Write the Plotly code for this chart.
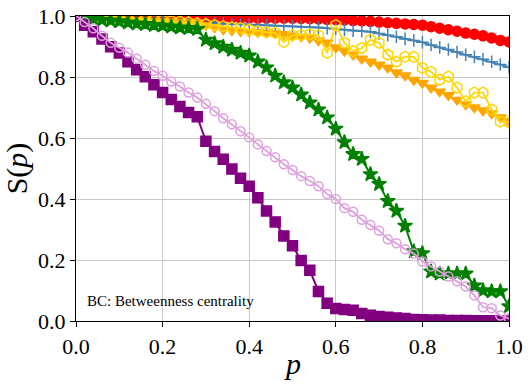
import plotly.graph_objects as go

# fraction of removed nodes
p = [round(i * 0.02, 2) for i in range(51)]

s_red = [1.0, 1.0, 1.0, 0.999, 0.999, 0.999, 0.998, 0.998, 0.998, 0.997,
         0.997, 0.997, 0.996, 0.996, 0.996, 0.995, 0.995, 0.995, 0.994, 0.994,
         0.994, 0.993, 0.993, 0.993, 0.993, 0.993, 0.992, 0.991, 0.99, 0.989,
         0.988, 0.987, 0.985, 0.984, 0.982, 0.98, 0.978, 0.976, 0.974, 0.972,
         0.97, 0.965, 0.96, 0.955, 0.95, 0.944, 0.94, 0.935, 0.928, 0.92,
         0.915]

s_blue = [1.0, 0.998, 0.996, 0.995, 0.993, 0.992, 0.99, 0.988, 0.987, 0.985,
          0.984, 0.982, 0.98, 0.979, 0.978, 0.977, 0.976, 0.975, 0.974, 0.973,
          0.972, 0.971, 0.97, 0.969, 0.968, 0.966, 0.965, 0.963, 0.962, 0.96,
          0.958, 0.955, 0.952, 0.95, 0.948, 0.943, 0.937, 0.932, 0.925, 0.92,
          0.914, 0.905, 0.897, 0.89, 0.882, 0.873, 0.866, 0.858, 0.85, 0.841,
          0.832]

s_orange = [1.0, 0.996, 0.994, 0.992, 0.99, 0.988, 0.987, 0.986, 0.985, 0.984,
            0.983, 0.982, 0.98, 0.979, 0.977, 0.97, 0.962, 0.956, 0.952, 0.95,
            0.948, 0.947, 0.945, 0.943, 0.94, 0.935, 0.932, 0.928, 0.92, 0.912,
            0.897, 0.885, 0.873, 0.86, 0.85, 0.84, 0.83, 0.815, 0.805, 0.79,
            0.78, 0.765, 0.752, 0.74, 0.725, 0.71, 0.70, 0.69, 0.68, 0.667,
            0.654]

s_gold = [1.0, 0.998, 0.996, 0.994, 0.993, 0.992, 0.99, 0.99, 0.988, 0.987,
          0.986, 0.984, 0.982, 0.979, 0.976, 0.973, 0.97, 0.966, 0.963, 0.96,
          0.955, 0.95, 0.947, 0.945, 0.915, 0.937, 0.937, 0.94, 0.937, 0.879,
          0.97, 0.912, 0.885, 0.895, 0.922, 0.912, 0.873, 0.85, 0.866, 0.866,
          0.83, 0.817, 0.791, 0.801, 0.765, 0.72, 0.749, 0.749, 0.693, 0.654,
          0.651]

s_green = [1.0, 0.995, 0.99, 0.987, 0.985, 0.982, 0.978, 0.975, 0.973, 0.97,
           0.968, 0.965, 0.962, 0.96, 0.957, 0.922, 0.91, 0.899, 0.889, 0.879,
           0.87, 0.85, 0.831, 0.804, 0.782, 0.765, 0.742, 0.716, 0.693, 0.667,
           0.63, 0.586, 0.547, 0.531, 0.481, 0.449, 0.393, 0.361, 0.312, 0.228,
           0.222, 0.162, 0.155, 0.155, 0.155, 0.155, 0.116, 0.10, 0.097, 0.097,
           0.048]

s_purple = [1.0, 0.97, 0.948, 0.925, 0.899, 0.879, 0.85, 0.824, 0.801, 0.775,
            0.749, 0.726, 0.703, 0.684, 0.67, 0.589, 0.556, 0.53, 0.498, 0.468,
            0.442, 0.404, 0.361, 0.325, 0.279, 0.247, 0.198, 0.166, 0.097, 0.058,
            0.041, 0.038, 0.035, 0.025, 0.019, 0.015, 0.012, 0.01, 0.008, 0.005,
            0.004, 0.003, 0.003, 0.002, 0.002, 0.002, 0.001, 0.001, 0.001, 0.0,
            0.0]

s_lilac = [1.0, 0.98, 0.96, 0.935, 0.912, 0.896, 0.88, 0.86, 0.84, 0.82,
           0.804, 0.785, 0.769, 0.749, 0.733, 0.712, 0.688, 0.665, 0.645, 0.622,
           0.602, 0.579, 0.557, 0.537, 0.514, 0.495, 0.475, 0.459, 0.442, 0.416,
           0.40, 0.37, 0.358, 0.332, 0.315, 0.296, 0.268, 0.255, 0.235, 0.221,
           0.195, 0.179, 0.162, 0.146, 0.13, 0.113, 0.084, 0.045, 0.042, 0.018,
           0.008]

FONT = "Liberation Serif"

series = [
    (s_red, "red", "circle", 10, 2),
    (s_blue, "steelblue", "cross-thin-open", 9, 2),
    (s_orange, "orange", "triangle-down", 10, 2),
    (s_gold, "gold", "hexagon-open", 11, 1.8),
    (s_green, "green", "star", 11, 2),
    (s_purple, "purple", "square", 10, 2),
    (s_lilac, "plum", "circle-open", 9, 1.8),
]

fig = go.Figure()
for ys, col, sym, size, lw in series:
    fig.add_trace(go.Scatter(
        x=p, y=ys, mode="lines+markers",
        line=dict(color=col, width=lw),
        marker=dict(symbol=sym, size=size, color=col,
                    line=dict(color=col, width=1.5)),
        showlegend=False,
    ))

axis_common = dict(
    range=[0, 1], dtick=0.2, tickformat=".1f",
    showline=True, linecolor="black", linewidth=1.2, mirror=True,
    ticks="outside", ticklen=5, tickcolor="black",
    showgrid=True, gridcolor="#c8c8c8", gridwidth=1,
    zeroline=False, automargin=False, ticklabeloverflow="allow",
    tickfont=dict(family=FONT, size=22, color="black"),
)

fig.update_layout(
    width=531, height=391,
    margin=dict(l=76, r=22, t=16, b=70, autoexpand=False),
    plot_bgcolor="white", paper_bgcolor="white",
    font=dict(family=FONT, color="black"),
    xaxis=axis_common,
    yaxis=dict(axis_common, title=dict(text="S(<i>p</i>)", standoff=17,
                                       font=dict(family=FONT, size=30, color="black"))),
    annotations=[
        dict(x=0.02, y=0.065, xref="x", yref="y", xanchor="left", yanchor="middle",
             text="BC: Betweenness centrality", showarrow=False,
             font=dict(family=FONT, size=15, color="black")),
        dict(x=0.5, y=0, xref="paper", yref="paper", xanchor="center", yanchor="middle",
             yshift=-42, text="<i>p</i>", showarrow=False,
             font=dict(family=FONT, size=30, color="black")),
    ],
)

# drop the default 8px body margin so the figure sits at the page corner
fig.write_html("out.html", config={"displayModeBar": False},
               post_script="document.body.style.margin='0';")
